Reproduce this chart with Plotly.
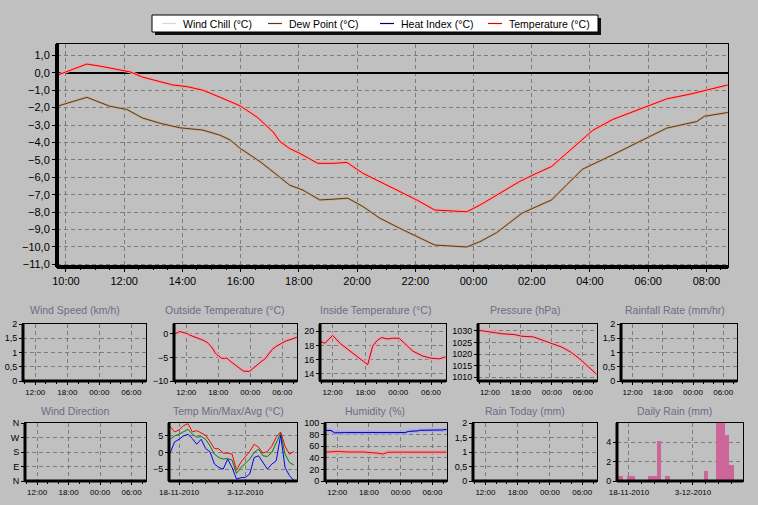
import pandas as pd
from plotly.graph_objects import Figure, Scatter, Bar

W, H = 758, 505

# ---- main chart : temperature and dew point (hh:mm, day rolls over past midnight)
temp_clock = ["09:41", "10:43", "11:10", "11:31", "12:12", "12:38", "13:14", "13:40", "14:10",
              "14:42", "15:17", "15:59", "16:34", "17:07", "17:21", "17:41", "18:02", "18:39",
              "19:10", "19:39", "20:12", "20:47", "21:28", "22:03", "22:40", "23:05", "23:46",
              "00:13", "00:48", "01:35", "02:10", "02:41", "03:12", "03:43", "04:06", "04:47",
              "05:28", "06:03", "06:38", "07:26", "08:01", "08:44"]
temperature = [-0.15, 0.5, 0.38, 0.27, 0.05, -0.25, -0.5, -0.7, -0.8, -1.0, -1.4, -1.9, -2.55,
               -3.4, -3.95, -4.35, -4.63, -5.2, -5.2, -5.15, -5.77, -6.25, -6.8, -7.3, -7.88,
               -7.92, -7.98, -7.6, -7.0, -6.24, -5.77, -5.38, -4.62, -3.85, -3.3, -2.68, -2.23,
               -1.85, -1.5, -1.23, -0.99, -0.7]

dew_clock = ["09:41", "10:43", "11:31", "12:05", "12:38", "13:14", "13:55", "14:42", "15:17",
             "15:38", "15:59", "16:40", "17:15", "17:41", "18:08", "18:43", "19:10", "19:41",
             "20:12", "20:47", "21:28", "22:03", "22:40", "23:46", "00:13", "00:48", "01:40",
             "02:10", "02:41", "03:12", "03:45", "04:47", "05:57", "06:38", "07:40", "07:56",
             "08:44"]
dew_point = [-1.93, -1.41, -1.93, -2.1, -2.6, -2.9, -3.16, -3.29, -3.58, -3.85, -4.34, -5.1,
             -5.87, -6.45, -6.73, -7.3, -7.26, -7.2, -7.68, -8.35, -8.93, -9.4, -9.89, -10.0,
             -9.7, -9.17, -8.06, -7.68, -7.3, -6.43, -5.53, -4.71, -3.75, -3.18, -2.8, -2.5,
             -2.28]

# ---- small charts
inside_clock = ["09:42", "10:37", "12:00", "13:20", "14:51", "16:22", "17:35", "18:25", "19:20",
                "20:10", "21:00", "22:00", "23:00", "00:10", "01:09", "02:40", "04:29", "06:00",
                "07:31", "08:40"]
inside_temp = [18.55, 18.3, 19.4, 18.3, 17.4, 16.5, 15.8, 15.3, 17.9, 18.7, 19.1, 18.9, 19.0,
               19.0, 18.3, 17.2, 16.5, 16.2, 16.1, 16.4]

press_clock = ["09:44", "12:00", "14:15", "16:50", "18:10", "20:25", "23:20", "01:55", "03:50",
               "05:45", "08:40"]
pressure = [1030.3, 1029.6, 1028.8, 1028.4, 1027.7, 1027.4, 1025.2, 1023.0, 1020.6, 1017.2,
            1011.2]

hum_out_clock = ["09:44", "10:50", "11:30", "13:35", "00:50", "01:30", "03:20", "03:30", "07:50",
                 "08:40"]
hum_out = [87.4, 87.0, 83.0, 83.5, 83.5, 85.5, 86.5, 87.4, 88.0, 89.0]
hum_in_clock = ["09:44", "12:00", "14:00", "17:00", "19:40", "20:40", "21:30", "23:00", "08:40"]
hum_in = [49.7, 51.0, 50.0, 50.0, 48.0, 46.5, 49.5, 49.7, 49.7]

wind_dir_clock = ["09:44", "08:40"]
wind_dir = [0, 0]

# daily values, 16-11-2010 .. 14-12-2010
days = pd.date_range("2010-11-16", "2010-12-14", freq="D")
t_max = [7.8, 6.2, 6.8, 8.1, 8.7, 6.2, 6.6, 5.9, 5.2, 3.3, 1.2, 1.1, -0.2, -0.2, -0.5, -5.3,
         -2.9, -1.3, 0.3, 2.5, 1.6, -0.2, 0.3, 1.9, 4.6, 6.2, 1.9, -0.5, 0.3]
t_avg = [4.0, 5.0, 5.5, 6.3, 7.0, 5.5, 4.6, 4.8, 4.0, 2.0, -0.5, -1.5, -2.0, -1.8, -2.3, -6.3,
         -4.5, -3.3, -2.0, 0.0, 1.0, -1.0, -1.2, 0.0, 3.0, 5.8, -0.5, -3.0, -3.8]
t_min = [0.0, 3.2, 4.0, 5.0, 5.5, 4.2, 2.5, 4.0, 1.2, 0.2, -3.5, -4.5, -5.0, -2.0, -4.5, -8.0,
         -7.6, -7.5, -6.5, -1.5, -1.0, -3.0, -5.0, -3.5, -2.5, 5.2, -4.5, -7.0, -8.4]

rain_days = ["2010-11-16", "2010-11-18", "2010-11-19", "2010-11-23", "2010-11-24",
             "2010-11-25", "2010-11-27", "2010-12-06", "2010-12-09", "2010-12-10",
             "2010-12-11", "2010-12-12"]
daily_rain = [0.5, 0.5, 0.5, 0.5, 0.5, 4.1, 0.5, 1.0, 5.9, 5.9, 4.7, 1.6]

legend_names = ["Wind Chill (°C)", "Dew Point (°C)", "Heat Index (°C)", "Temperature (°C)"]
legend_colors = ["#D8D8D8", "#5E3A14", "#000070", "#E00000"]
date_ticks = ["2010-11-18", "2010-12-03"]
compass = ["N", "E", "S", "W", "N"]


def stamp(clock):
    """hh:mm -> timestamps, passing midnight moves to the next day"""
    out, day, last = [], pd.Timestamp("2010-12-16"), -1
    for c in clock:
        h, m = map(int, c.split(":"))
        if h < last:
            day += pd.Timedelta(days=1)
        last = h
        out.append(day + pd.Timedelta(hours=h, minutes=m))
    return out


def px_x(p):
    return p / W


def px_y(p):
    return 1 - p / H


T_RANGE = ["2010-12-16 09:41:30", "2010-12-17 08:44:30"]
GRID = dict(showgrid=True, gridcolor="#7C7C7C", griddash="4px,3px", gridwidth=1)
BG = "#C0C0C0"

fig = Figure()

# main chart traces
fig.add_trace(Scatter(x=stamp(dew_clock), y=dew_point, mode="lines", hoverinfo="skip",
                      line=dict(color="#C4AC94", width=2.5)))
fig.add_trace(Scatter(x=stamp(dew_clock), y=dew_point, name=legend_names[1], mode="lines",
                      line=dict(color=legend_colors[1], width=1)))
fig.add_trace(Scatter(x=stamp(temp_clock), y=temperature, mode="lines", hoverinfo="skip",
                      line=dict(color="#F0A0A0", width=3)))
fig.add_trace(Scatter(x=stamp(temp_clock), y=temperature, name=legend_names[3], mode="lines",
                      line=dict(color=legend_colors[3], width=1)))

layout = dict(
    width=W, height=H, paper_bgcolor=BG, plot_bgcolor=BG,
    margin=dict(l=0, r=0, t=0, b=0, autoexpand=False), separators=",.",
    font=dict(family="Arial", size=11, color="black"),
    showlegend=False,
    xaxis=dict(domain=[px_x(57), px_x(728)], anchor="y", type="date", range=T_RANGE,
               tick0="2010-12-16 00:00", dtick=7200000, tickformat="%H:%M",
               showline=True, linecolor="black", linewidth=1, mirror=True,
               ticks="outside", ticklen=4, tickcolor="black", zeroline=False,
               minor=dict(ticks="outside", ticklen=2, dtick=1800000, showgrid=False,
                          tickcolor="black"),
               **GRID),
    yaxis=dict(domain=[px_y(267), px_y(44)], anchor="x", range=[-11.15, 1.65],
               tick0=0, dtick=1, tickformat=".1f",
               showline=True, linecolor="black", linewidth=1, mirror=True,
               ticks="outside", ticklen=4, tickcolor="black",
               zeroline=True, zerolinecolor="black", zerolinewidth=2, **GRID),
)

shapes = [
    # hand-drawn legend box with its shadow
    dict(type="rect", xref="paper", yref="paper", x0=px_x(155), x1=px_x(601),
         y0=px_y(35), y1=px_y(18), fillcolor="#101010", line=dict(width=0)),
    dict(type="rect", xref="paper", yref="paper", x0=px_x(152), x1=px_x(598),
         y0=px_y(32), y1=px_y(15), fillcolor="white", line=dict(color="black", width=1)),
    dict(type="line", xref="x domain", yref="y domain", x0=0, x1=0, y0=0, y1=1,
         line=dict(color="black", width=4)),
    dict(type="line", xref="x domain", yref="y domain", x0=0, x1=1, y0=0, y1=0,
         line=dict(color="black", width=4)),
]
annotations = []

legend_line_x = [162, 268, 380, 488]
for name, col, lx in zip(legend_names, legend_colors, legend_line_x):
    shapes.append(dict(type="line", xref="paper", yref="paper", x0=px_x(lx), x1=px_x(lx + 14),
                       y0=px_y(23.5), y1=px_y(23.5), line=dict(color=col, width=1.2)))
    annotations.append(dict(text=name, x=px_x(lx + 19), y=px_y(23.5), xref="paper",
                            yref="paper", showarrow=False, xanchor="left", yanchor="middle",
                            font=dict(size=10.5, color="black")))

panels = [
    # title, box (left, right, top, bottom px), title centre (x, y px), y-axis settings
    ("Wind Speed (km/h)", (23, 146, 324, 381), (75, 310), dict(range=[0, 2], dtick=0.5)),
    ("Outside Temperature (°C)", (174, 297, 324, 381), (225, 310), dict(range=[-10, 2.1], dtick=5)),
    ("Inside Temperature (°C)", (320, 446, 324, 381), (375, 310), dict(range=[13, 21], dtick=2)),
    ("Pressure (hPa)", (478, 597, 324, 381), (525, 310), dict(range=[1008.3, 1033], dtick=5)),
    ("Rainfall Rate (mm/hr)", (621, 737, 324, 381), (675, 310), dict(range=[0, 2], dtick=0.5)),
    ("Wind Direction", (25, 146, 423, 481), (75, 411),
     dict(range=[0, 360], tickvals=[0, 90, 180, 270, 360], ticktext=compass)),
    ("Temp Min/Max/Avg (°C)", (169, 297, 423, 481), (228, 411), dict(range=[-8.6, 8.9], dtick=5)),
    ("Humidity (%)", (325, 447, 423, 481), (375, 411), dict(range=[0, 100], dtick=20)),
    ("Rain Today (mm)", (473, 597, 423, 481), (525, 411), dict(range=[0, 2], dtick=0.5)),
    ("Daily Rain (mm)", (617, 743, 423, 481), (674, 411), dict(range=[0, 5.95], dtick=2)),
]

for i, (title, (l, r, t, b), (tx, ty), yset) in enumerate(panels):
    n = i + 2
    xa = dict(domain=[px_x(l), px_x(r)], anchor=f"y{n}", type="date",
              showline=True, linecolor="black", linewidth=1, mirror=True,
              ticks="outside", ticklen=3, tickcolor="black", zeroline=False,
              tickfont=dict(size=8), **GRID)
    if title in ("Temp Min/Max/Avg (°C)", "Daily Rain (mm)"):
        rng = ["2010-11-15 17:00", "2010-12-14 17:00"] if title.startswith("Temp") \
            else ["2010-11-15 05:00", "2010-12-14 17:00"]
        xa.update(range=rng, tickvals=date_ticks, tickformat="%-d-%m-%Y",
                  minor=dict(ticks="outside", ticklen=2, dtick=86400000 * 3,
                             tick0="2010-11-18", showgrid=False, tickcolor="black"))
    else:
        xa.update(range=T_RANGE, tick0="2010-12-16 00:00", dtick=21600000, tickformat="%H:%M",
                  minor=dict(ticks="outside", ticklen=2, dtick=7200000, showgrid=False,
                             tickcolor="black"))
    ya = dict(domain=[px_y(b), px_y(t)], anchor=f"x{n}",
              showline=True, linecolor="black", linewidth=1, mirror=True,
              ticks="outside", ticklen=3, tickcolor="black", zeroline=False,
              tickfont=dict(size=9), **GRID)
    ya.update(yset)
    layout[f"xaxis{n}"] = xa
    layout[f"yaxis{n}"] = ya
    for x0, x1, y0, y1 in ((0, 0, 0, 1), (0, 1, 0, 0)):
        shapes.append(dict(type="line", xref=f"x{n} domain", yref=f"y{n} domain",
                           x0=x0, x1=x1, y0=y0, y1=y1, line=dict(color="black", width=3)))
    annotations.append(dict(text=title, x=px_x(tx), y=px_y(ty), xref="paper", yref="paper",
                            showarrow=False, xanchor="center", yanchor="middle",
                            font=dict(size=10.5, color="#6C6C84")))
    # an empty trace so that every panel gets its axes drawn
    fig.add_trace(Scatter(x=[pd.Timestamp(xa["range"][0])], y=[None], xaxis=f"x{n}",
                          yaxis=f"y{n}", mode="lines"))


def halo_line(n, x, y, core, glow):
    fig.add_trace(Scatter(x=x, y=y, xaxis=f"x{n}", yaxis=f"y{n}", mode="lines",
                          hoverinfo="skip", line=dict(color=glow, width=4)))
    fig.add_trace(Scatter(x=x, y=y, xaxis=f"x{n}", yaxis=f"y{n}", mode="lines",
                          line=dict(color=core, width=1)))


halo_line(3, stamp(temp_clock), temperature, "#A01020", "#EBA4AC")
halo_line(4, stamp(inside_clock), inside_temp, "#A01020", "#EBA4AC")
halo_line(5, stamp(press_clock), pressure, "#A01020", "#EBA4AC")
fig.add_trace(Scatter(x=stamp(wind_dir_clock), y=wind_dir, xaxis="x7", yaxis="y7", mode="lines",
                      line=dict(color="#C04050", width=2)))
for vals, col in ((t_max, "#FF0000"), (t_avg, "#008000"), (t_min, "#0000FF")):
    fig.add_trace(Scatter(x=days, y=vals, xaxis="x8", yaxis="y8", mode="lines",
                          line=dict(color=col, width=1)))
halo_line(9, stamp(hum_out_clock), hum_out, "#000090", "#A8A8F0")
halo_line(9, stamp(hum_in_clock), hum_in, "#D01010", "#E8A0A0")
fig.add_trace(Bar(x=pd.to_datetime(rain_days), y=daily_rain, xaxis="x11", yaxis="y11",
                  marker=dict(color="#CC6699", line=dict(width=0)),
                  width=86400000))

layout["shapes"] = shapes
layout["annotations"] = annotations
layout["bargap"] = 0
fig.update_layout(layout)

fig.write_html("out.html", config={"displayModeBar": False},
               post_script="document.body.style.margin='0px';"
                           "document.body.style.overflow='hidden';")
